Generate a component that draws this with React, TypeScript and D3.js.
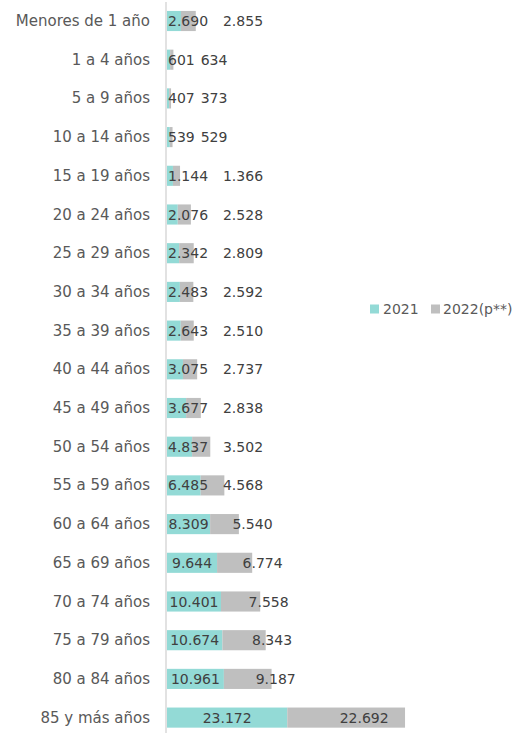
import React from "react";
import * as d3 from "d3";

const categories = [
  "Menores de 1 año", "1 a 4 años", "5 a 9 años", "10 a 14 años", "15 a 19 años",
  "20 a 24 años", "25 a 29 años", "30 a 34 años", "35 a 39 años", "40 a 44 años",
  "45 a 49 años", "50 a 54 años", "55 a 59 años", "60 a 64 años", "65 a 69 años",
  "70 a 74 años", "75 a 79 años", "80 a 84 años", "85 y más años",
];
const values2021 = [2690, 601, 407, 539, 1144, 2076, 2342, 2483, 2643, 3075, 3677, 4837, 6485, 8309, 9644, 10401, 10674, 10961, 23172];
const values2022 = [2855, 634, 373, 529, 1366, 2528, 2809, 2592, 2510, 2737, 2838, 3502, 4568, 5540, 6774, 7558, 8343, 9187, 22692];
const seriesNames = ["2021", "2022(p**)"];

const W = 512;
const H = 733;
const COLORS = ["#93dad6", "#bfbfbf"];
const FONT = "'DejaVu Sans', sans-serif";

const locale = d3.formatLocale({ decimal: ",", thousands: ".", grouping: [3], currency: ["", ""] });
const fmt = locale.format(",d");

function textW(s: string, size: number) {
  let w = 0;
  for (const c of s) w += c === "." ? 0.318 : 0.636;
  return w * size;
}

export default function App() {
  const x = d3.scaleLinear().domain([0, 50000]).range([167, 426.5]);
  const y = d3
    .scaleBand<string>()
    .domain(categories)
    .range([1.65, 1.65 + 19 * 38.7])
    .paddingInner(0.48)
    .paddingOuter(0.24);
  const bw = y.bandwidth();
  const numSize = 14;

  return (
    <svg width={W} height={H} style={{ position: "absolute", left: 0, top: 0, background: "#fff" }} fontFamily={FONT}>
      {categories.map((c, i) => {
        const y0 = y(c)!;
        const cy = y0 + bw / 2;
        const a = values2021[i];
        const b = values2022[i];
        const xa0 = x(0), xa1 = x(a), xb1 = x(a + b);
        const la = fmt(a), lb = fmt(b);
        const wa = textW(la, numSize);
        const tealX = Math.max((xa0 + xa1) / 2, 168 + wa / 2);
        const gw = xb1 - xa1;
        const grayCenter = (xa1 + xb1) / 2;
        const grayX = Math.max(grayCenter + (gw > 80 ? 18 : 28), x(0) + (a + b < 2000 ? 47 : 76));
        return (
          <g key={c}>
            <text x={150} y={cy} textAnchor="end" dominantBaseline="central" fontSize={15} fill="#595959">{c}</text>
            <rect x={xa0} y={y0} width={xa1 - xa0} height={bw} fill={COLORS[0]} />
            <rect x={xa1} y={y0} width={gw} height={bw} fill={COLORS[1]} />
            <text x={tealX} y={cy} textAnchor="middle" dominantBaseline="central" fontSize={numSize} fill="#404040">{la}</text>
            <text x={grayX} y={cy} textAnchor="middle" dominantBaseline="central" fontSize={numSize} fill="#404040">{lb}</text>
          </g>
        );
      })}
      <line x1={166} x2={166} y1={2} y2={H} stroke="#d9d9d9" strokeWidth={1.5} />
      <g transform="translate(370,309)">
        <rect x={0} y={-4.5} width={9} height={9} fill={COLORS[0]} />
        <text x={13} y={0} dominantBaseline="central" fontSize={14} fill="#595959">{seriesNames[0]}</text>
        <rect x={61} y={-4.5} width={9} height={9} fill={COLORS[1]} />
        <text x={73} y={0} dominantBaseline="central" fontSize={14} fill="#595959">{seriesNames[1]}</text>
      </g>
    </svg>
  );
}
